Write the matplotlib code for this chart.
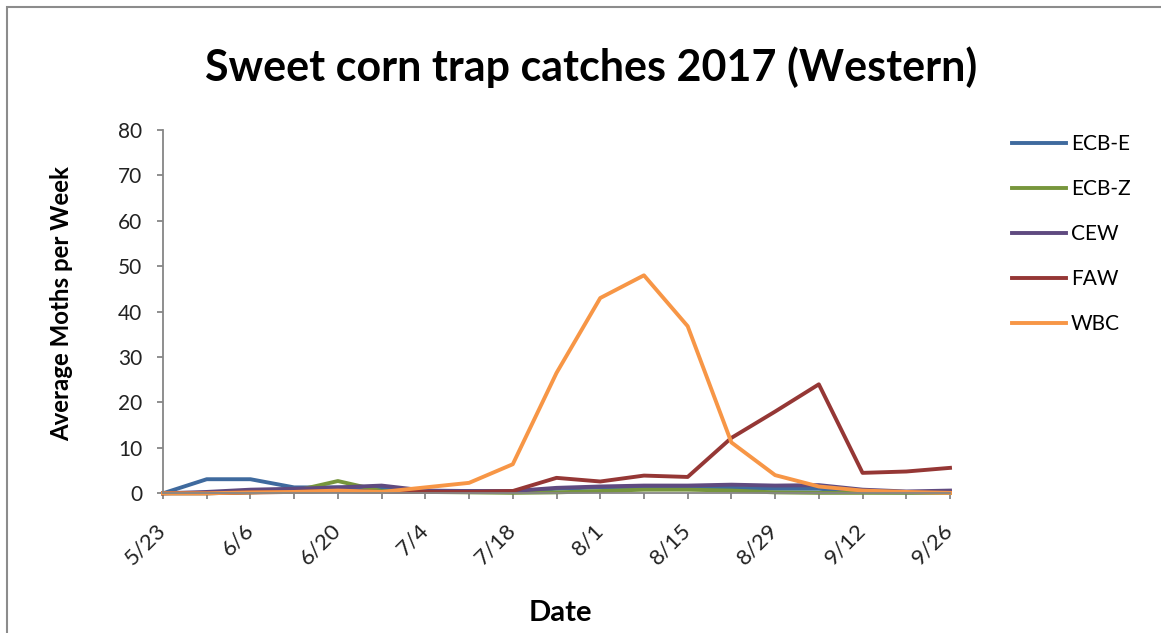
import matplotlib
matplotlib.use("Agg")
import matplotlib.pyplot as plt
import matplotlib.transforms as mtransforms
from matplotlib.patches import Rectangle

# Weekly trap dates (every week, labels shown every other week)
dates = ["5/23", "5/30", "6/6", "6/13", "6/20", "6/27", "7/4", "7/11", "7/18",
         "7/25", "8/1", "8/8", "8/15", "8/22", "8/29", "9/5", "9/12", "9/19", "9/26"]

ecb_e = [0, 3.1, 3.1, 1.3, 1.3, 1.0, 0.4, 0.5, 0.4, 1.0, 1.3, 1.4, 1.4, 1.2, 1.0, 1.0, 0.3, 0.2, 0.3]
ecb_z = [0, 0, 0.2, 0.5, 2.7, 0.5, 0.3, 0.2, 0.1, 0.2, 0.5, 0.8, 0.8, 0.6, 0.2, 0.1, 0.1, 0.1, 0.1]
cew = [0, 0.3, 0.8, 1.0, 1.3, 1.7, 0.6, 0.5, 0.5, 1.2, 1.5, 1.7, 1.7, 1.9, 1.7, 1.8, 0.8, 0.4, 0.6]
faw = [0, 0, 0.2, 0.3, 0.5, 0.3, 0.3, 0.3, 0.5, 3.4, 2.6, 3.9, 3.6, 12.2, 18.0, 24.0, 4.5, 4.8, 5.6]
wbc = [0, 0, 0.2, 0.3, 0.6, 0.3, 1.3, 2.3, 6.4, 26.5, 43.0, 48.0, 36.8, 11.2, 4.0, 1.5, 0.6, 0.3, 0.1]

series_names = ["ECB-E", "ECB-Z", "CEW", "FAW", "WBC"]
series_values = [ecb_e, ecb_z, cew, faw, wbc]
series_colors = ["#3f6a9e", "#77963c", "#5f4a80", "#953735", "#f79646"]

y_ticks = [0, 10, 20, 30, 40, 50, 60, 70, 80]

FONT = "Lato"
W, H = 1161, 633
fig = plt.figure(figsize=(W / 100, H / 100), dpi=100)
fig.patch.set_facecolor("white")

# chart-area border
fig.patches.append(Rectangle((7 / W, -0.1), 1.2, 1 - 7 / H + 0.1,
                             transform=fig.transFigure, fill=False,
                             edgecolor="#8c8c8c", linewidth=1.5))

ax = fig.add_axes([163 / W, 1 - 493.3 / H, (950 - 163) / W, (493.3 - 130) / H])
x = list(range(len(dates)))
for name, vals, col in zip(series_names, series_values, series_colors):
    ax.plot(x, vals, color=col, linewidth=2.8, label=name, clip_on=False)

ax.set_xlim(0, len(dates) - 1)
ax.set_ylim(0, 80)
ax.set_yticks(y_ticks)
ax.set_yticklabels([str(v) for v in y_ticks], fontfamily=FONT, fontsize=15,
                   color="#222222")
ax.set_xticks(x)
ax.set_xticklabels([d if i % 2 == 0 else "" for i, d in enumerate(dates)],
                   rotation=45, ha="right", va="center", rotation_mode="anchor",
                   fontfamily=FONT, fontsize=16, color="#222222")
offset = mtransforms.ScaledTranslation(19 / 100, 0, fig.dpi_scale_trans)
for lbl in ax.get_xticklabels():
    lbl.set_transform(lbl.get_transform() + offset)

for side in ("top", "right"):
    ax.spines[side].set_visible(False)
for side in ("left", "bottom"):
    ax.spines[side].set_color("#868686")
    ax.spines[side].set_linewidth(1.3)
ax.tick_params(axis="both", direction="out", length=4.3, width=1.3, color="#868686")
ax.tick_params(axis="y", pad=10.5)
ax.tick_params(axis="x", pad=20)

ax.set_ylabel("Average Moths per Week", fontfamily=FONT, fontweight="bold",
              fontsize=17.3, color="black")
ax.yaxis.set_label_coords((73 - 163) / (950 - 163), (493.3 - 304) / (493.3 - 130))
fig.text(560 / W, 1 - 621 / H, "Date", ha="center", va="baseline",
         fontfamily=FONT, fontweight="bold", fontsize=21)
fig.text(591 / W, 1 - 81 / H, "Sweet corn trap catches 2017 (Western)",
         ha="center", va="baseline", fontfamily=FONT, fontweight="bold",
         fontsize=31)

fig.legend(loc="upper left", bbox_to_anchor=(1002 / W, 1 - 124 / H),
           frameon=False, borderpad=0, handlelength=2.55, handletextpad=0.25,
           labelspacing=1.2, prop={"family": FONT, "size": 15})

fig.savefig("out.png", dpi=100)
